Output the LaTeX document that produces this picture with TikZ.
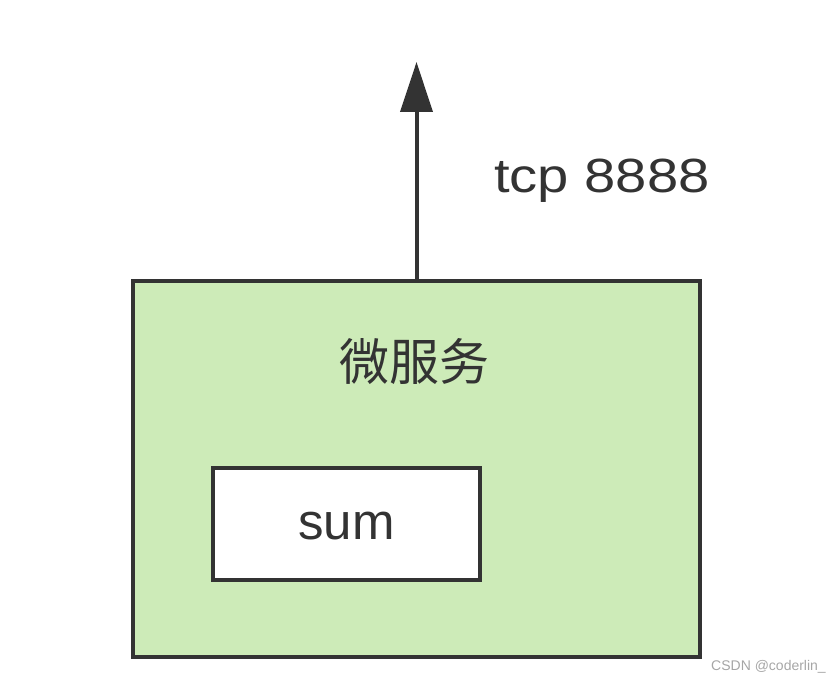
\documentclass[tikz,border=0pt]{standalone}
\usepackage{fontspec}
\setmainfont{Liberation Sans}
\newfontfamily\cjk{Noto Sans CJK SC}
\newfontfamily\widesans[FakeStretch=1.17]{Liberation Sans}
\usetikzlibrary{arrows.meta}
\definecolor{svcgreen}{HTML}{CDEBB8}
\definecolor{inkgray}{HTML}{333333}

\begin{document}
\begin{tikzpicture}[
    x=1pt, y=-1pt,
    box/.style={draw=inkgray, line width=4pt, inner sep=0pt},
    lbl/.style={text=inkgray, inner sep=0pt},
    arr/.style={-{Triangle[length=50pt,width=32pt]}, line width=4pt, draw=inkgray}
]
\useasboundingbox (0,0) rectangle (838,682);
% service box
\node[box, fill=svcgreen, minimum width=567pt, minimum height=376pt] (svc) at (416.5,469) {};
\node[lbl, font=\cjk\fontsize{50}{60}\selectfont] (svcname) at (414,362) {微服务};
\node[box, fill=white, minimum width=267pt, minimum height=112pt] (sum) at (346.5,524) {};
\node[lbl, font=\fontsize{51}{60}\selectfont] (sumname) at (346.5,526) {sum};

% exposed port
\coordinate (top) at (416.5,62);
\draw[arr] (svc.north) -- (top);
\node[lbl, font=\widesans\fontsize{48}{58}\selectfont, anchor=base west] (port) at (494,193) {tcp 8888};

% watermark
\node[text=black!35, inner sep=0pt, font=\fontsize{14}{16}\selectfont, anchor=east] (wm) at (826,667) {CSDN @coderlin\_};
\end{tikzpicture}
\end{document}
